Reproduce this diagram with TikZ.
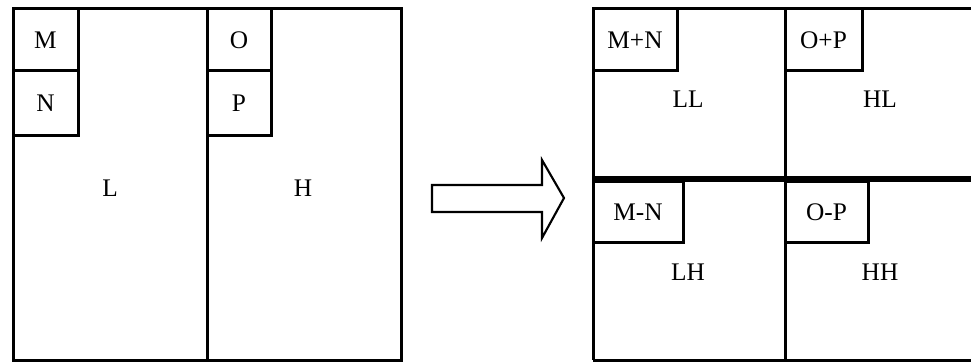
\documentclass[tikz,border=0pt]{standalone}
\usepackage{fontspec}
\setmainfont{Liberation Serif}
\begin{document}
\begin{tikzpicture}[x=0.75pt,y=-0.75pt,
  box/.style={draw=black,line width=2.25pt},
  thickline/.style={draw=black,line width=4.2pt},
  lbl/.style={inner sep=0pt,font=\fontsize{19}{22}\selectfont},
  arrowshape/.style={draw=black,line width=1.6pt,line join=miter,fill=white}]
\useasboundingbox (0,0) rectangle (971,362);
\clip (0,0) rectangle (971,362);
\fill[white] (0,0) rectangle (971,362);
% left figure
\draw[box] (13,8) rectangle (401,360);
\draw[box] (207,8) -- (207,360);
\draw[box] (13,8) rectangle (78,70);
\draw[box] (13,70) rectangle (78,135);
\draw[box] (207,8) rectangle (271,70);
\draw[box] (207,70) rectangle (271,135);
\node[lbl] (m) at (45.5,40) {M};
\node[lbl] (n) at (45.5,103) {N};
\node[lbl] (o) at (239,40) {O};
\node[lbl] (p) at (239,103) {P};
\node[lbl] (l) at (110,188) {L};
\node[lbl] (h) at (303,188) {H};
% arrow
\draw[arrowshape] (432,185) -- (542,185) -- (542,160) -- (564,198) -- (542,238) -- (542,212) -- (432,212) -- cycle;
% right figure
\draw[box] (593,8) -- (980,8);
\draw[box] (593,360) -- (980,360);
\draw[box] (593,8) -- (593,360);
\draw[box] (785,8) -- (785,360);
\draw[thickline] (593,179) -- (980,179);
\draw[box] (593,8) rectangle (677,70);
\draw[box] (785,8) rectangle (862,70);
\draw[box] (593,181) rectangle (683,242);
\draw[box] (785,181) rectangle (868,242);
\node[lbl] (mpn) at (635,40) {M+N};
\node[lbl] (opp) at (823.5,40) {O+P};
\node[lbl] (mmn) at (638,212) {M-N};
\node[lbl] (omp) at (826.5,212) {O-P};
\node[lbl] (ll) at (688,99) {LL};
\node[lbl] (hl) at (880,99) {HL};
\node[lbl] (lh) at (688,272) {LH};
\node[lbl] (hh) at (880,272) {HH};
\end{tikzpicture}
\end{document}
